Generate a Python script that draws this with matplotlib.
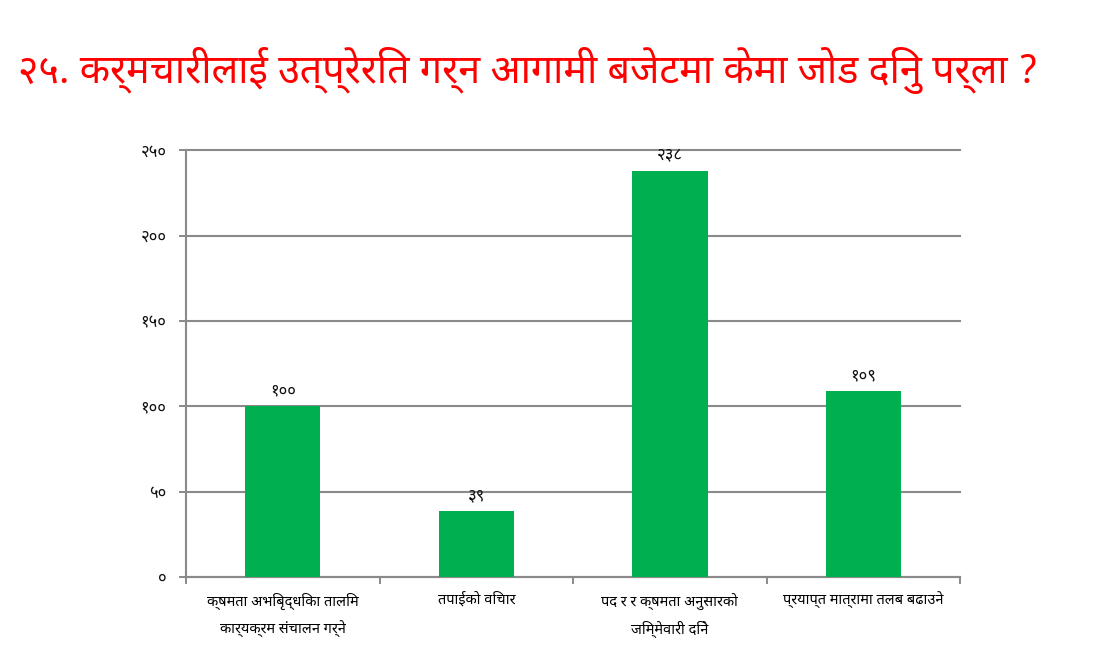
import matplotlib
matplotlib.use('Agg')
import matplotlib.pyplot as plt
from matplotlib.ticker import FixedLocator

# Devanagari fonts first, DejaVu as fallback
FONT = ['Noto Sans Devanagari', 'FreeSans', 'DejaVu Sans']
plt.rcParams['font.family'] = FONT

title = '२५. कर्मचारीलाई उत्प्रेरित गर्न आगामी बजेटमा केमा जोड दिनु पर्ला ?'
categories = [
    'क्षमता अभिबृद्धिका तालिम\nकार्यक्रम संचालन गर्ने',
    'तपाईको विचार',
    'पद र र क्षमता अनुसारको\nजिम्मेवारी दिने',
    'प्रयाप्त मात्रामा तलब बढाउने',
]
values = [100, 39, 238, 109]
y_ticks = [0, 50, 100, 150, 200, 250]

DIGITS = str.maketrans('0123456789', '०१२३४५६७८९')

def nep(n):
    """अंकलाई देवनागरीमा"""
    return str(n).translate(DIGITS)

fig = plt.figure(figsize=(11, 6.68), dpi=100)
ax = fig.add_axes([0.169, 0.136, 0.704, 0.639])

GRID = '#8a8a8a'
x = list(range(len(categories)))
bars = ax.bar(x, values, width=0.39, color='#00B050', zorder=3)
for b, v in zip(bars, values):
    ax.text(b.get_x() + b.get_width() / 2, v + 4, nep(v), ha='center', va='bottom',
            fontsize=12, color='#111111')

ax.set_xlim(-0.5, len(categories) - 0.5)
ax.set_ylim(0, 250)
ax.set_yticks(y_ticks)
ax.set_yticklabels([nep(t) for t in y_ticks], fontsize=12, color='#111111')
ax.yaxis.grid(True, color=GRID, linewidth=1.5, zorder=0)
for gl in ax.get_ygridlines():
    gl.set_clip_on(False)

ax.set_xticks(x)
ax.set_xticklabels(categories, fontsize=10.5, color='#000000', linespacing=1.9)
ax.tick_params(axis='x', length=0, pad=11)
ax.xaxis.set_minor_locator(FixedLocator([i + 0.5 for i in range(-1, len(categories))]))
ax.tick_params(axis='x', which='minor', length=5, color=GRID, width=1.4)
ax.tick_params(axis='y', length=5, color=GRID, width=1.4, pad=9)

for side in ['top', 'right']:
    ax.spines[side].set_visible(False)
for side in ['left', 'bottom']:
    ax.spines[side].set_color(GRID)
    ax.spines[side].set_linewidth(1.5)

fig.text(0.016, 0.895, title, fontsize=28.4, color='#FF0000', ha='left', va='center',
         fontweight='light')

fig.savefig('out.png', dpi=100)
